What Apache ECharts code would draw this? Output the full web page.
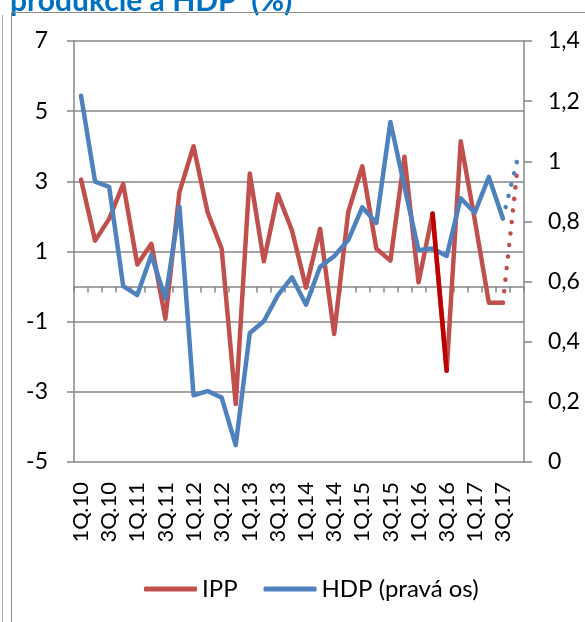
<!DOCTYPE html>
<html>
<head>
<meta charset="utf-8">
<script src="https://cdn.jsdelivr.net/npm/echarts@6/dist/echarts.min.js"></script>
<style>
  html, body { margin: 0; padding: 0; background: #fff; }
  #chart { width: 585px; height: 622px; }
</style>
</head>
<body>
<div id="chart"></div>
<script>
// quarters 1Q.10 .. 4Q.17
const quarters = [
  "1Q.10", "2Q.10", "3Q.10", "4Q.10", "1Q.11", "2Q.11", "3Q.11", "4Q.11",
  "1Q.12", "2Q.12", "3Q.12", "4Q.12", "1Q.13", "2Q.13", "3Q.13", "4Q.13",
  "1Q.14", "2Q.14", "3Q.14", "4Q.14", "1Q.15", "2Q.15", "3Q.15", "4Q.15",
  "1Q.16", "2Q.16", "3Q.16", "4Q.16", "1Q.17", "2Q.17", "3Q.17", "4Q.17"
];

// IPP, left axis (%)
const ipp = [
  3.05, 1.31, 1.93, 2.93, 0.63, 1.22, -0.92, 2.7,
  4.0, 2.12, 1.08, -3.35, 3.22, 0.72, 2.63, 1.6,
  -0.03, 1.65, -1.35, 2.12, 3.43, 1.08, 0.74, 3.7,
  0.12, 2.08, -2.4, 4.14, 1.9, -0.46, -0.46
];
// HDP, right axis (%)
const hdp = [
  1.218, 0.932, 0.915, 0.585, 0.555, 0.688, 0.544, 0.849,
  0.222, 0.236, 0.214, 0.056, 0.429, 0.468, 0.555, 0.614,
  0.523, 0.649, 0.684, 0.738, 0.847, 0.795, 1.131, 0.915,
  0.704, 0.71, 0.685, 0.877, 0.829, 0.948, 0.81
];
// highlighted IPP segment (2Q.16 -> 3Q.16)
const ippHighlightFrom = 25;
// estimates for 4Q.17 (dotted)
const ippEstimate = 3.22;
const hdpEstimate = 1.0;

const leftTicks = { min: -5, max: 7, interval: 2 };
const rightTicks = { min: 0, max: 1.4, interval: 0.2 };

const red = "#C0504D";
const darkRed = "#C00000";
const blue = "#4F81BD";
const grey = "#878787";
const font = "Lato";

const last = ipp.length - 1;
const pad = (arr) => quarters.map((_, i) => (i < arr.length ? arr[i] : null));
const segment = (from, to, a, b) => quarters.map((_, i) => (i === from ? a : i === to ? b : null));

const ippHighlight = segment(ippHighlightFrom, ippHighlightFrom + 1,
  ipp[ippHighlightFrom], ipp[ippHighlightFrom + 1]);
const ippDotted = segment(last, last + 1, ipp[last], ippEstimate);
const hdpDotted = segment(last, last + 1, hdp[last], hdpEstimate);

const lineBase = (width) => ({
  width: width,
  cap: "round",
  join: "round",
});

const chart = echarts.init(document.getElementById("chart"));

chart.setOption({
  animation: false,
  textStyle: { fontFamily: font },
  graphic: [
    {
      type: "text",
      x: 10,
      y: 16,
      style: {
        text: "produkcie a HDP  (%)",
        font: "bold 30px Lato",
        fill: "#0070C0",
        verticalAlign: "bottom",
      },
    },
    {
      type: "line",
      shape: { x1: 2.5, y1: 15, x2: 2.5, y2: 622 },
      style: { stroke: "#a6a6a6", lineWidth: 1 },
    },
    {
      type: "polyline",
      shape: { points: [[11.5, 640], [11.5, 12.5], [600, 12.5]] },
      style: { stroke: "#8c8c8c", lineWidth: 1, fill: null },
    },
  ],
  grid: { left: 74, right: 61, top: 41, bottom: 160 },
  legend: {
    data: ["IPP", "HDP (pravá os)"],
    left: 139,
    top: 572,
    itemWidth: 53,
    itemHeight: 5,
    itemGap: 26,
    icon: "roundRect",
    textStyle: { fontFamily: font, fontSize: 24, color: "#000" },
  },
  xAxis: [
    {
      type: "category",
      data: quarters,
      boundaryGap: true,
      axisLine: { onZero: true, onZeroAxisIndex: 0, lineStyle: { color: grey, width: 1.5 } },
      axisTick: { show: true, interval: 0, length: 6, lineStyle: { color: grey, width: 1.5 } },
      axisLabel: { show: false },
      splitLine: { show: false },
    },
    {
      type: "category",
      data: quarters,
      position: "bottom",
      boundaryGap: true,
      axisLine: { show: false, onZero: false },
      axisTick: { show: false },
      axisLabel: {
        interval: 1,
        rotate: 90,
        margin: 20,
        fontFamily: font,
        fontSize: 22,
        color: "#000",
      },
    },
  ],
  yAxis: [
    {
      type: "value",
      min: leftTicks.min,
      max: leftTicks.max,
      interval: leftTicks.interval,
      axisLine: { show: true, lineStyle: { color: grey, width: 1.5 } },
      axisTick: { show: true, length: 7, lineStyle: { color: grey, width: 1.5 } },
      axisLabel: { margin: 26, fontFamily: font, fontSize: 23, color: "#000" },
      splitLine: { show: true, lineStyle: { color: grey, width: 1.5 } },
    },
    {
      type: "value",
      position: "right",
      min: rightTicks.min,
      max: rightTicks.max,
      interval: rightTicks.interval,
      axisLine: { show: true, lineStyle: { color: grey, width: 1.5 } },
      axisTick: { show: true, length: 8, lineStyle: { color: grey, width: 1.5 } },
      axisLabel: {
        margin: 24,
        fontFamily: font,
        fontSize: 23,
        color: "#000",
        formatter: (v) => String(Math.round(v * 10) / 10).replace(".", ","),
      },
      splitLine: { show: false },
    },
  ],
  series: [
    {
      name: "IPP",
      type: "line",
      data: pad(ipp),
      yAxisIndex: 0,
      showSymbol: false,
      color: red,
      lineStyle: Object.assign(lineBase(4.5), { color: red }),
      z: 2,
    },
    {
      name: "HDP (pravá os)",
      type: "line",
      data: pad(hdp),
      yAxisIndex: 1,
      showSymbol: false,
      color: blue,
      lineStyle: Object.assign(lineBase(4.5), { color: blue }),
      z: 3,
    },
    {
      name: "IPP highlight",
      type: "line",
      data: ippHighlight,
      yAxisIndex: 0,
      showSymbol: false,
      color: darkRed,
      lineStyle: Object.assign(lineBase(4.5), { color: darkRed }),
      z: 4,
    },
    {
      name: "IPP estimate",
      type: "line",
      data: ippDotted,
      yAxisIndex: 0,
      showSymbol: false,
      color: red,
      lineStyle: Object.assign(lineBase(4.5), { color: red, type: [0.1, 11.5] }),
      z: 4,
    },
    {
      name: "HDP estimate",
      type: "line",
      data: hdpDotted,
      yAxisIndex: 1,
      showSymbol: false,
      color: blue,
      lineStyle: Object.assign(lineBase(4.5), { color: blue, type: [0.1, 11.5] }),
      z: 5,
    },
  ],
});
</script>
</body>
</html>
